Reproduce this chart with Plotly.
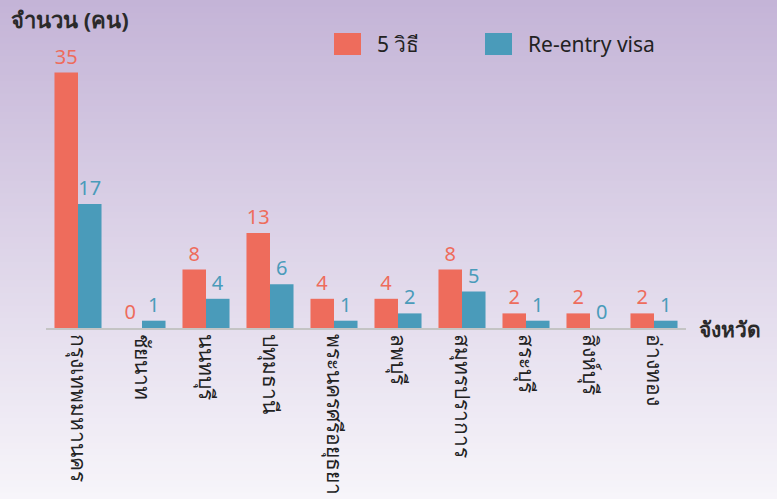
import plotly.graph_objects as go

provinces = ["กรุงเทพมหานคร", "ชัยนาท", "นนทบุรี", "ปทุมธานี", "พระนครศรีอยุธยา",
             "ลพบุรี", "สมุทรปราการ", "สระบุรี", "สิงห์บุรี", "อ่างทอง"]
five_ways = [35, 0, 8, 13, 4, 4, 8, 2, 2, 2]
reentry = [17, 1, 4, 6, 1, 2, 5, 1, 0, 1]
series_names = ["5 วิธี", "Re-entry visa"]

RED = "#EE6C5C"
TEAL = "#4A9BBA"
FONT = "Noto Sans, Tahoma, sans-serif"

W, H = 777, 499
L, R, T, B = 46, 91, 36, 171

fig = go.Figure()
fig.add_trace(go.Bar(x=provinces, y=five_ways, name=series_names[0], marker_color=RED,
                     marker_line_width=0, text=five_ways, textposition="outside",
                     textfont=dict(color=RED, size=20, family=FONT), cliponaxis=False))
fig.add_trace(go.Bar(x=provinces, y=reentry, name=series_names[1], marker_color=TEAL,
                     marker_line_width=0, text=reentry, textposition="outside",
                     textfont=dict(color=TEAL, size=20, family=FONT), cliponaxis=False))

# gradient background bands
shapes = []
plot_h = H - T - B
n = 80
top = (196, 180, 215)
bot = (247, 245, 250)
for i in range(n):
    p0 = H * i / n
    p1 = H * (i + 1) / n + 1
    f = (i + 0.5) / n
    c = tuple(int(round(top[k] + (bot[k] - top[k]) * f)) for k in range(3))
    shapes.append(dict(type="rect", xref="paper", yref="paper",
                       x0=-L / (W - L - R) - 0.01, x1=1 + R / (W - L - R) + 0.01,
                       y0=(H - B - p1) / plot_h, y1=(H - B - p0) / plot_h,
                       fillcolor="rgb(%d,%d,%d)" % c, line_width=0, layer="below"))

pw = W - L - R


def px_x(px):
    return (px - L) / pw


def px_y(py):
    return (H - B - py) / plot_h


# manual legend
for x0, x1, col in [(334, 361, RED), (485, 512, TEAL)]:
    shapes.append(dict(type="rect", xref="paper", yref="paper",
                       x0=px_x(x0), x1=px_x(x1), y0=px_y(55), y1=px_y(33),
                       fillcolor=col, line_width=0))

annotations = [
    dict(text=series_names[0], x=px_x(375), y=px_y(44), xref="paper", yref="paper",
         xanchor="left", yanchor="middle", showarrow=False,
         font=dict(size=21, color="#222222", family=FONT)),
    dict(text=series_names[1], x=px_x(526), y=px_y(44), xref="paper", yref="paper",
         xanchor="left", yanchor="middle", showarrow=False,
         font=dict(size=21, color="#222222", family=FONT)),
    dict(text="<b>จำนวน (คน)</b>", x=px_x(9), y=px_y(19), xref="paper", yref="paper",
         xanchor="left", yanchor="middle", showarrow=False,
         font=dict(size=22, color="#2a2a2a", family=FONT)),
    dict(text="<b>จังหวัด</b>", x=px_x(697), y=px_y(329), xref="paper", yref="paper",
         xanchor="left", yanchor="middle", showarrow=False,
         font=dict(size=21, color="#2a2a2a", family=FONT)),
]

fig.update_layout(
    width=W, height=H,
    margin=dict(l=L, r=R, t=T, b=B, autoexpand=False),
    paper_bgcolor="rgba(0,0,0,0)",
    plot_bgcolor="rgba(0,0,0,0)",
    barmode="group", bargap=0.265, bargroupgap=0,
    showlegend=False,
    shapes=shapes,
    annotations=annotations,
    font=dict(family=FONT, color="#222222"),
    xaxis=dict(tickangle=90, tickfont=dict(size=21, color="#222222", family=FONT),
               showline=True, linecolor="#C4C4C4", linewidth=2, ticks="",
               ticklabelstandoff=0, automargin=False,
               showgrid=False, zeroline=False),
    yaxis=dict(range=[0, 40], visible=False, showgrid=False, zeroline=False,
               automargin=False),
)

fig.write_html("out.html", config={"displayModeBar": False},
               post_script="document.body.style.margin='0';document.body.style.overflow='hidden';")
